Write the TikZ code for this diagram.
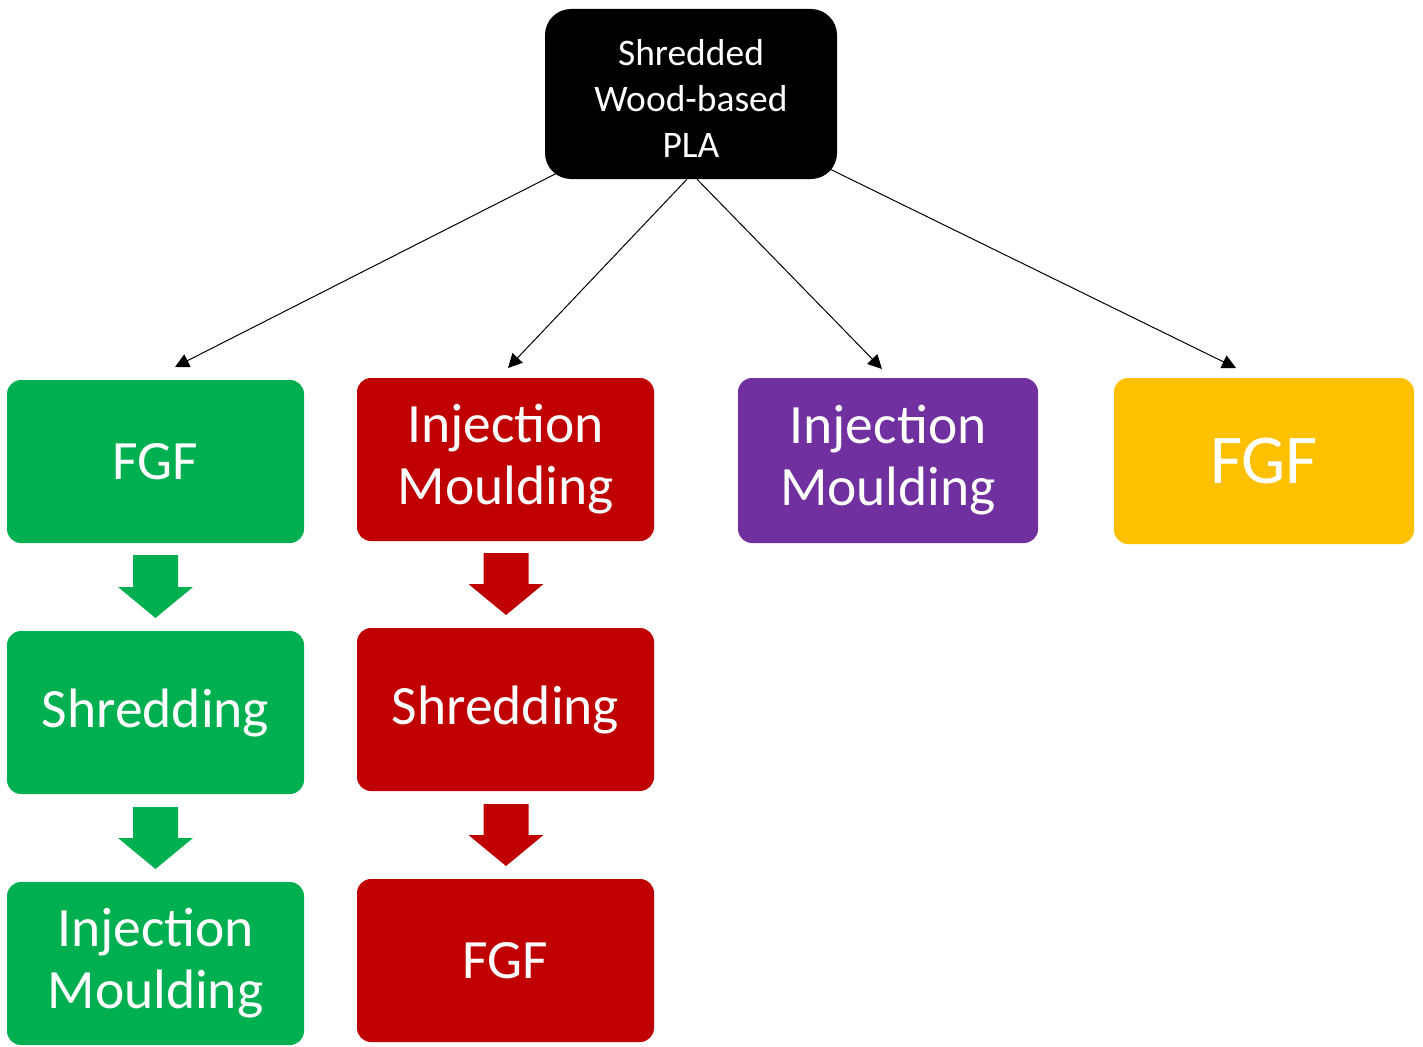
\documentclass[tikz,border=0pt]{standalone}
\usepackage{fontspec}
\setmainfont{Carlito}
\usetikzlibrary{arrows.meta}
\definecolor{cgreen}{HTML}{00B050}
\definecolor{cred}{HTML}{C00000}
\definecolor{cpurple}{HTML}{7030A0}
\definecolor{cyellow}{HTML}{FFC000}
\tikzset{
  box/.style={fill=#1, draw=none, rounded corners=14pt, text=white, align=center,
    inner sep=0pt, minimum width=297pt, minimum height=163pt,
    font=\fontsize{55.5}{62}\selectfont},
  conn/.style={draw=black, line width=1pt, -{Triangle[length=14pt,width=14pt]}},
}
\newcommand\blockarrow[4]{%
  \fill[#4] (#1-22.5,#2) -- (#1+22.5,#2) -- (#1+22.5,#3) -- (#1+37.5,#3) -- (#1,#3+31) -- (#1-37.5,#3) -- (#1-22.5,#3) -- cycle;}
\begin{document}
\begin{tikzpicture}[x=1pt,y=-1pt]
\useasboundingbox (0,0) rectangle (1423,1046);
\node[box=black, rounded corners=26pt, minimum width=292pt, minimum height=170pt,
  font=\fontsize{37.5}{46}\selectfont] (top) at (691,94) {};
\node[text=white, align=center, inner sep=0pt, font=\fontsize{37.5}{46}\selectfont] (toplbl) at (691,98) {Shredded\\Wood-based\\PLA};
\node[box=cgreen] (g1) at (155.5,461.5) {FGF};
\node[box=cgreen] (g2) at (155.5,712.5) {Shredding};
\node[box=cgreen] (g3) at (155.5,963.5) {Injection\\Moulding};
\node[box=cred] (r1) at (505.5,459.5) {Injection\\Moulding};
\node[box=cred] (r2) at (505.5,709.5) {Shredding};
\node[box=cred] (r3) at (505.5,960.5) {FGF};
\node[box=cpurple, minimum width=300pt, minimum height=165pt] (p1) at (888,460.5) {Injection\\Moulding};
\node[box=cyellow, minimum width=300pt, minimum height=166pt, font=\fontsize{70}{80}\selectfont] (y1) at (1264,461) {FGF};
\coordinate (t1) at (175,367);
\coordinate (t2) at (508,368);
\coordinate (t3) at (882,369);
\coordinate (t4) at (1236,368);
\draw[conn] ([shift={(12,-6)}]top.south west) -- (t1);
\draw[conn] ([xshift=-4pt]top.south) -- (t2);
\draw[conn] ([xshift=6pt]top.south) -- (t3);
\draw[conn] ([shift={(-7,-10)}]top.south east) -- (t4);
\blockarrow{155.5}{555}{587}{cgreen}
\blockarrow{155.5}{807}{838}{cgreen}
\blockarrow{506}{553}{584}{cred}
\blockarrow{506}{804}{835}{cred}
\end{tikzpicture}
\end{document}
